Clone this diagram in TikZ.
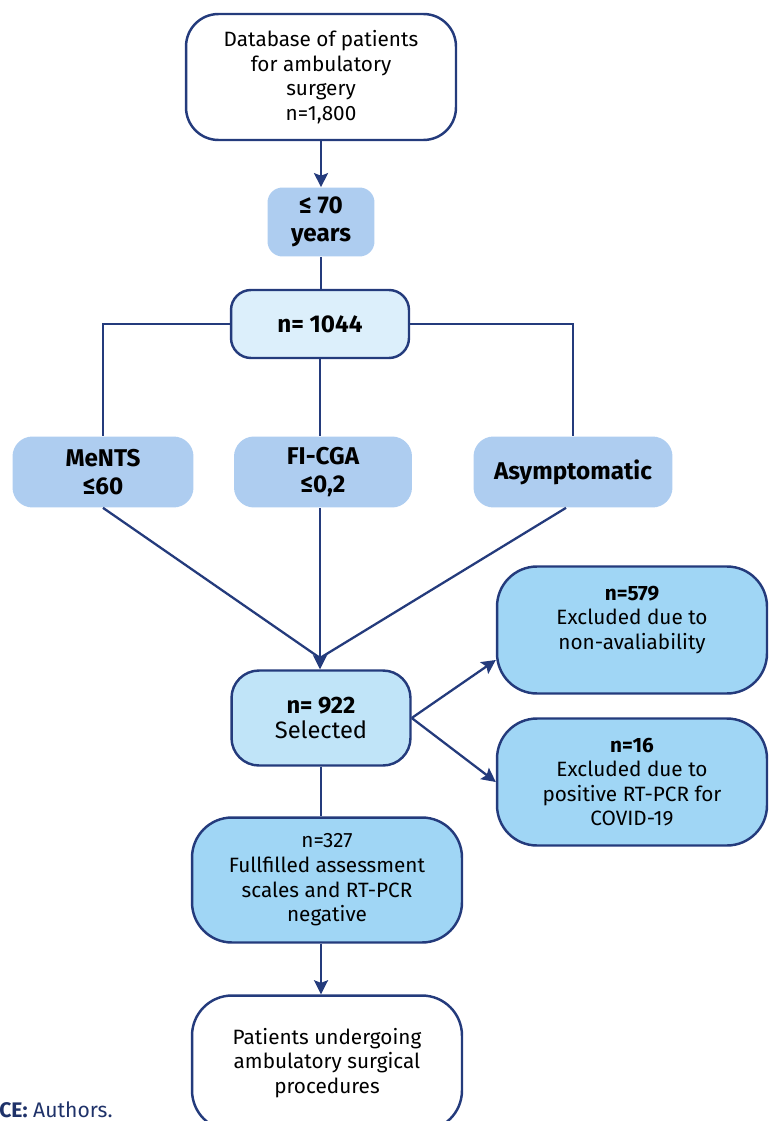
\documentclass[tikz,border=0pt]{standalone}
\usepackage{fontspec}
\setmainfont{Fira Sans}
\usetikzlibrary{arrows.meta}
\definecolor{navy}{HTML}{243B7C}
\definecolor{fillA}{HTML}{AECDF0}
\definecolor{fillB}{HTML}{DCEFFB}
\definecolor{fillC}{HTML}{C0E4F8}
\definecolor{fillD}{HTML}{A0D6F5}
\tikzset{
  every picture/.style={/utils/exec={\fontsize{11.8}{14}\selectfont}},
  outlinebox/.style={draw=navy, line width=1.4pt, align=center, inner sep=2pt},
  plainbox/.style={fill=fillA, align=center, inner sep=2pt, rounded corners=0.4cm,
    minimum height=1.42cm, font=\fontsize{13.8}{16}\selectfont\bfseries},
  link/.style={draw=navy, line width=1.3pt},
  arrow/.style={link, -{Stealth[length=8pt, width=8pt, inset=1.5pt]}}
}
\begin{document}
\begin{tikzpicture}[x=0.02cm, y=-0.02cm]
		\useasboundingbox (0,0) rectangle (768,1121);
		\clip (0,0) rectangle (768,1121);

		% top and filter
		\node[outlinebox, fill=white, rounded corners=0.65cm, minimum width=5.4cm, minimum height=2.52cm]
			(base) at (321, 77) {Database of patients\\for ambulatory\\surgery\\n=1,800};
		\node[plainbox, minimum width=2.14cm, minimum height=1.38cm, rounded corners=0.3cm] (age) at (321, 222) {≤ 70\\years};
		\node[outlinebox, fill=fillB, rounded corners=0.4cm, minimum width=3.56cm, minimum height=1.36cm,
			font=\fontsize{13.8}{16}\selectfont\bfseries] (pool) at (320, 324) {n= 1044};

		% criteria
		\node[plainbox, minimum width=3.62cm] (ments) at (103, 472) {MeNTS\\≤60};
		\node[plainbox, minimum width=3.56cm] (fcga) at (323, 472) {FI-CGA\\≤0,2};
		\node[plainbox, minimum width=3.98cm] (asym) at (573, 472) {Asymptomatic};

		% selection
		\node[outlinebox, fill=fillC, rounded corners=0.55cm, minimum width=3.58cm, minimum height=1.9cm]
			(sel) at (321, 718) {\textbf{\fontsize{13.5}{16}\selectfont n= 922}\\{\fontsize{13.5}{16}\selectfont Selected}};
		\node[outlinebox, fill=fillD, rounded corners=0.8cm, minimum width=5.4cm, minimum height=2.54cm]
			(exA) at (632, 630) {\textbf{n=579}\\Excluded due to\\non-avaliability\\\mbox{}};
		\node[outlinebox, fill=fillD, rounded corners=0.8cm, minimum width=5.4cm, minimum height=2.54cm]
			(exB) at (632, 782) {\textbf{n=16}\\Excluded due to\\positive RT-PCR for\\COVID-19};
		\node[outlinebox, fill=fillD, rounded corners=0.8cm, minimum width=5.4cm, minimum height=2.5cm]
			(kept) at (327, 880) {n=327\\Fullfilled assessment\\scales and RT-PCR\\negative};
		\node[outlinebox, fill=white, rounded corners=0.8cm, minimum width=5.4cm, minimum height=2.7cm]
			(proc) at (327, 1063) {Patients undergoing\\ambulatory surgical\\procedures};

		\coordinate (merge) at (320, 658);
		\coordinate (keptout) at (kept.south -| sel.south);
		\coordinate (procin) at (proc.north -| sel.south);

		\draw[arrow] (base) -- (age);
		\draw[link] (age) -- (age |- pool.north);
		\draw[link] (pool.west) -| (ments.north);
		\draw[link] (pool.east) -| (asym.north);
		\draw[link] (pool.south) -- (pool.south |- fcga.north);

		\draw[link] (ments.south) -- (merge);
		\draw[link] (fcga.south -| merge) -- (merge);
		\draw[link] ([xshift=-0.14cm]asym.south) -- (merge);
		\draw[arrow] (merge) -- (merge |- sel.north);

		\draw[arrow] (sel.east) -- ([yshift=-0.6cm]exA.west);
		\draw[arrow] (sel.east) -- (exB.west);
		\draw[link] (sel.south) -- (sel.south |- kept.north);
		\draw[arrow] (keptout) -- (procin);

		\node[anchor=base west, inner sep=0, text=navy!85!black, font=\fontsize{12}{14}\selectfont]
			(src) at (-1, 1117) {\textbf{CE:} Authors.};
	\end{tikzpicture}
\end{document}
